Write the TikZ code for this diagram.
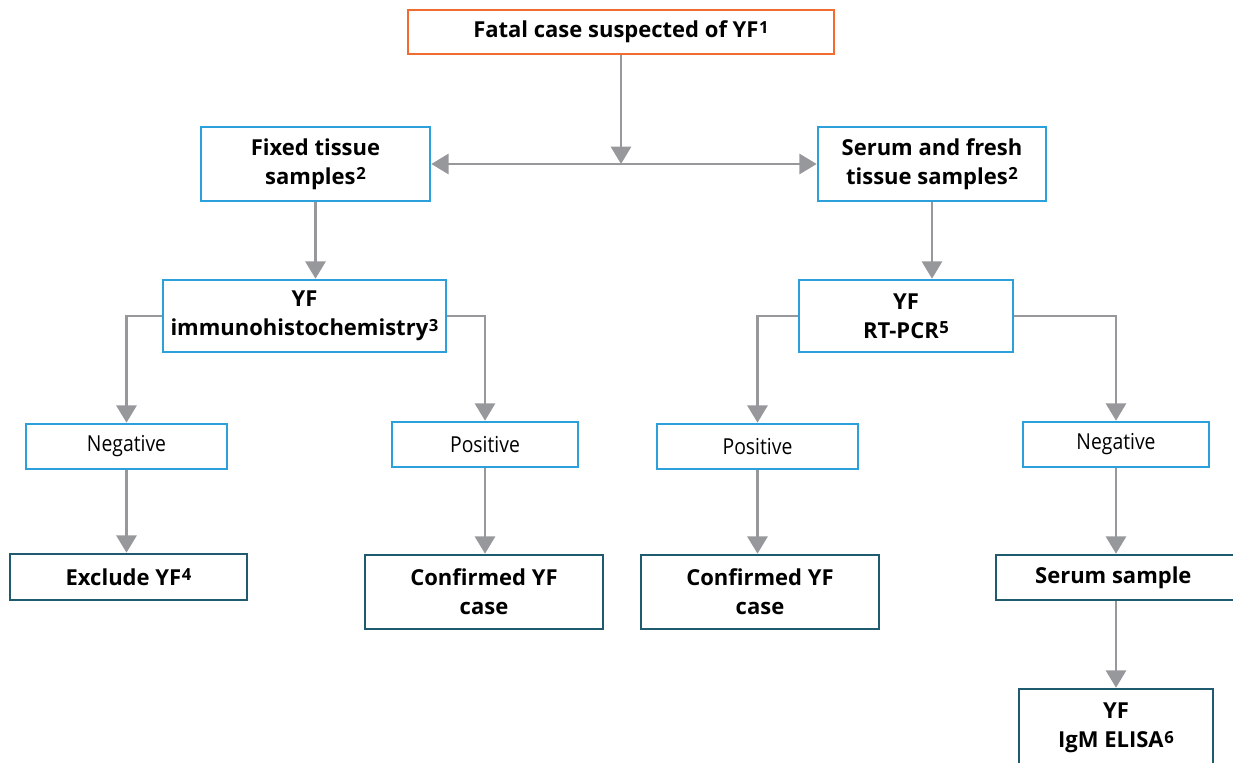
\documentclass[tikz,border=0pt]{standalone}
\usepackage{fontspec}
\setmainfont{Open Sans}
\newfontfamily\condfont[FakeStretch=0.88]{Open Sans}
\usetikzlibrary{arrows.meta}
\definecolor{orangeb}{HTML}{F26B2F}
\definecolor{blueb}{HTML}{2BA0DA}
\definecolor{tealb}{HTML}{1F5A6E}
\definecolor{arrowgray}{HTML}{97989B}
\tikzset{
  boxbase/.style={inner sep=0pt, line width=1.9pt, align=center, font=\fontsize{16.5}{22}\selectfont\bfseries},
  startbox/.style={boxbase, draw=orangeb},
  bluebox/.style={boxbase, draw=blueb},
  resbox/.style={boxbase, draw=blueb, font=\fontsize{16.5}{20}\selectfont\condfont},
  endbox/.style={boxbase, draw=tealb},
  conn/.style={draw=arrowgray, line width=2.2pt, -{Triangle[width=15pt,length=13pt]}},
  conn2/.style={draw=arrowgray, line width=2.2pt, {Triangle[width=15pt,length=13pt]}-{Triangle[width=15pt,length=13pt]}},
}
\newcommand{\sups}[1]{\kern0.5pt\raisebox{3.4pt}{\fontsize{12.5}{12.5}\selectfont #1}}
\newcommand{\bx}[7]{\node[#2, minimum width={(#5-#3)*0.75pt}, minimum height={(#6-#4)*0.75pt}] (#1) at ({(#3+#5)/2},{(#4+#6)/2}) {#7};}
\begin{document}
\begin{tikzpicture}[x=0.75pt,y=-0.75pt]
\useasboundingbox (0,0) rectangle (1233,763);
\bx{top}{startbox}{408}{10}{834}{54}{Fatal case suspected of YF\sups{1}}
\bx{fixed}{bluebox}{201}{127}{430}{201}{Fixed tissue\\samples\sups{2}}
\bx{serum}{bluebox}{818}{127}{1046}{201}{Serum and fresh\\tissue samples\sups{2}}
\bx{ihc}{bluebox}{163}{280}{446}{352}{YF\\immunohistochemistry\sups{3}}
\bx{pcr}{bluebox}{799}{280}{1013}{352}{YF\\RT-PCR\sups{5}}
\bx{negL}{resbox}{26}{424}{227}{469}{Negative}
\bx{posL}{resbox}{392}{422}{578}{467}{Positive}
\bx{posR}{resbox}{657}{424}{858}{469}{Positive}
\bx{negR}{resbox}{1023}{422}{1209}{467}{Negative}
\bx{excl}{endbox}{10}{554}{247}{600}{Exclude YF\sups{4}}
\bx{confL}{endbox}{365}{555}{603}{629}{Confirmed YF\\case}
\bx{confR}{endbox}{641}{555}{879}{629}{Confirmed YF\\case}
\bx{sample}{endbox}{996}{555}{1240}{600}{\hspace{-7pt}Serum sample}
\bx{elisa}{endbox}{1019}{689}{1213}{767}{YF\\IgM ELISA\sups{6}}
\coordinate (mid) at (621,164);
\draw[conn] (top.south) -- (mid);
\draw[conn2] (fixed.east) -- (serum.west);
\draw[conn] (fixed.south) -- (ihc.north -| fixed.south);
\draw[conn] (serum.south) -- (pcr.north -| serum.south);
\draw[conn] (ihc.west) -| (negL.north);
\draw[conn] (ihc.east) -| (posL.north);
\draw[conn] (pcr.west) -| (posR.north);
\draw[conn] (pcr.east) -| (negR.north);
\draw[conn] (negL.south) -- (excl.north -| negL.south);
\draw[conn] (posL.south) -- (confL.north -| posL.south);
\draw[conn] (posR.south) -- (confR.north -| posR.south);
\draw[conn] (negR.south) -- (sample.north -| negR.south);
\draw[conn] (sample.south -| negR.south) -- (elisa.north -| negR.south);
\end{tikzpicture}
\end{document}
